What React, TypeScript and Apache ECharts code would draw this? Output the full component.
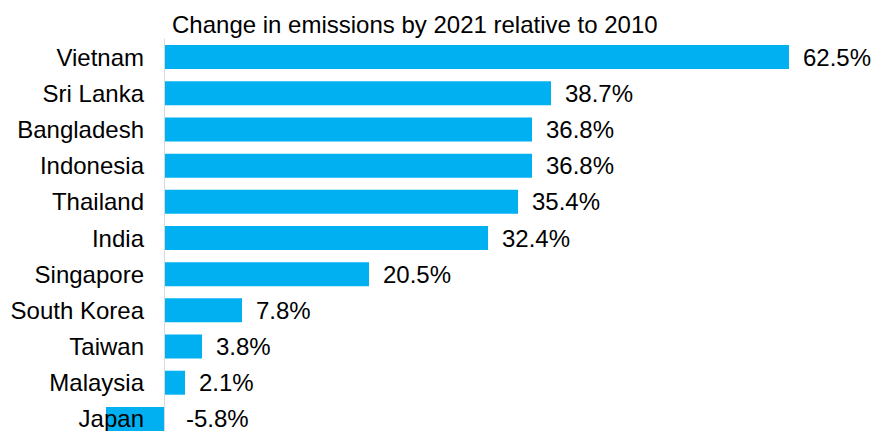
import React, { useEffect, useRef } from "react";
import * as echarts from "echarts";

const TITLE = "Change in emissions by 2021 relative to 2010";
const countries = [
  "Vietnam",
  "Sri Lanka",
  "Bangladesh",
  "Indonesia",
  "Thailand",
  "India",
  "Singapore",
  "South Korea",
  "Taiwan",
  "Malaysia",
  "Japan",
];
const changes = [62.5, 38.7, 36.8, 36.8, 35.4, 32.4, 20.5, 7.8, 3.8, 2.1, -5.8];

export default function App() {
  const ref = useRef<HTMLDivElement>(null);
  useEffect(() => {
    if (!ref.current) return;
    const chart = echarts.init(ref.current, null, { renderer: "svg" });
    const font = "'Liberation Sans', Arial, sans-serif";
    chart.setOption({
      animation: false,
      backgroundColor: "#ffffff",
      title: {
        text: TITLE,
        left: 172,
        top: 12,
        padding: 0,
        textStyle: {
          fontFamily: font,
          fontSize: 24,
          fontWeight: "normal",
          color: "#000",
          lineHeight: 24,
        },
      },
      grid: {
        left: 104,
        top: 39,
        width: 720,
        height: 398,
        containLabel: false,
        outerBoundsMode: "none",
      },
      xAxis: {
        type: "value",
        min: -6,
        max: 66,
        show: false,
      },
      yAxis: {
        type: "category",
        data: countries,
        inverse: true,
        z: 10,
        axisLine: { show: true, onZero: true, lineStyle: { color: "#d9d9d9", width: 1 } },
        axisTick: { show: false },
        axisLabel: {
          margin: -40,
          fontFamily: font,
          fontSize: 24,
          color: "#000",
        },
      },
      series: [
        {
          type: "bar",
          barWidth: 24,
          z: 2,
          itemStyle: { color: "#00B0F0" },
          data: changes.map((v) =>
            v < 0
              ? { value: v, label: { position: "right", distance: 22 } }
              : { value: v }
          ),
          label: {
            show: true,
            position: "right",
            distance: 14,
            fontFamily: font,
            fontSize: 24,
            color: "#000",
            formatter: (p: any) => `${Number(p.value).toFixed(1)}%`,
          },
        },
      ],
    });
    return () => chart.dispose();
  }, []);
  return (
    <div
      ref={ref}
      style={{ position: "fixed", left: 0, top: 0, width: 882, height: 431 }}
    />
  );
}
